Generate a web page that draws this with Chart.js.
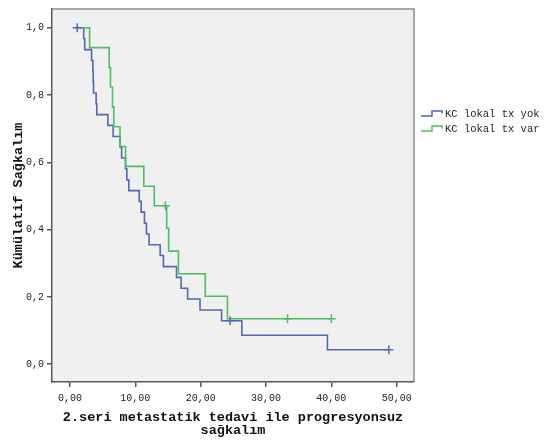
<!DOCTYPE html>
<html>
<head>
<meta charset="utf-8">
<script src="https://cdn.jsdelivr.net/npm/chart.js@4/dist/chart.umd.min.js"></script>
<style>
  html, body { margin: 0; padding: 0; background: #ffffff; }
  #wrap { width: 548px; height: 443px; }
</style>
</head>
<body>
<div id="wrap"><canvas id="c" width="548" height="443"></canvas></div>
<script>
// ---- data ----
const seriesNames = ['KC lokal tx yok', 'KC lokal tx var'];

const blueTimes = [1.1, 2.1, 2.25, 3.3, 3.5, 3.55, 3.6, 4.0, 4.1, 5.8, 6.6, 7.65, 7.9, 8.5, 8.7, 9.0,
                   10.6, 10.9, 11.4, 11.7, 12.1, 13.8, 14.3, 16.3, 17.0, 18.0, 19.9, 23.2, 26.3, 39.4, 48.8];
const blueSurv  = [1.0, .968, .935, .903, .871, .839, .806, .774, .742, .710, .677, .645, .613, .581, .548, .516,
                   .484, .452, .419, .387, .355, .323, .290, .258, .226, .194, .161, .129, .086, .043, .043];
const blueCensorTimes = [1.1, 24.5, 48.8];
const blueCensorSurv  = [1.0, .129, .043];

const greenTimes = [1.7, 3.0, 6.0, 6.2, 6.5, 6.7, 7.65, 8.5, 11.3, 12.9, 14.8, 15.1, 16.6, 20.7, 24.1, 40.0];
const greenSurv  = [1.0, .941, .882, .824, .765, .706, .647, .588, .529, .471, .404, .336, .269, .202, .135, .135];
const greenCensorTimes = [14.6, 33.3, 40.0];
const greenCensorSurv  = [.471, .135, .135];

const xTicks = [0, 10, 20, 30, 40, 50];
const yTicks = [0, 0.2, 0.4, 0.6, 0.8, 1.0];
const xTitle = ['2.seri metastatik tedavi ile progresyonsuz', 'sağkalım'];
const yTitle = 'Kümülatif Sağkalım';

// ---- styling ----
const BLUE = '#5566b6';
const GREEN = '#4cc05c';
const MONO = "'Liberation Mono', 'DejaVu Sans Mono', monospace";

const pts = (xs, ys) => xs.map((x, i) => ({ x: x, y: ys[i] }));

const plotBg = {
  id: 'plotBg',
  beforeDraw(chart) {
    const { ctx, chartArea: a } = chart;
    ctx.save();
    ctx.fillStyle = '#f0f0f0';
    ctx.fillRect(a.left, a.top, a.right - a.left, a.bottom - a.top);
    ctx.restore();
  },
  afterDraw(chart) {
    const { ctx, chartArea: a } = chart;
    ctx.save();
    ctx.strokeStyle = '#8c8c8c';
    ctx.lineWidth = 1.5;
    ctx.beginPath();
    ctx.moveTo(a.left, a.top);
    ctx.lineTo(a.right, a.top);
    ctx.lineTo(a.right, a.bottom);
    ctx.stroke();
    ctx.restore();
  }
};

const stepLegend = {
  id: 'stepLegend',
  afterDraw(chart) {
    const { ctx } = chart;
    const items = [
      { text: seriesNames[0], color: BLUE, y: 114.5 },
      { text: seriesNames[1], color: GREEN, y: 129.5 }
    ];
    ctx.save();
    items.forEach(it => {
      ctx.strokeStyle = it.color;
      ctx.lineWidth = 1.5;
      ctx.beginPath();
      ctx.moveTo(421, it.y + 1.5);
      ctx.lineTo(432, it.y + 1.5);
      ctx.lineTo(432, it.y - 3.5);
      ctx.lineTo(442, it.y - 3.5);
      ctx.lineTo(442, it.y - 1);
      ctx.stroke();
      ctx.fillStyle = '#222';
      ctx.font = '10.5px ' + MONO;
      ctx.textBaseline = 'middle';
      ctx.textAlign = 'left';
      ctx.fillText(it.text, 445, it.y);
    });
    ctx.restore();
  }
};

new Chart(document.getElementById('c'), {
  type: 'scatter',
  data: {
    datasets: [
      { label: seriesNames[0], data: pts(blueTimes, blueSurv), showLine: true, stepped: 'before',
        borderColor: BLUE, borderWidth: 1.6, pointRadius: 0, fill: false, order: 3 },
      { label: seriesNames[1], data: pts(greenTimes, greenSurv), showLine: true, stepped: 'before',
        borderColor: GREEN, borderWidth: 1.6, pointRadius: 0, fill: false, order: 2 },
      { label: 'cens1', data: pts(blueCensorTimes, blueCensorSurv), showLine: false,
        pointStyle: 'cross', pointRadius: 4.5, borderColor: BLUE, borderWidth: 1.5, order: 1 },
      { label: 'cens2', data: pts(greenCensorTimes, greenCensorSurv), showLine: false,
        pointStyle: 'cross', pointRadius: 4.5, borderColor: GREEN, borderWidth: 1.5, order: 0 }
    ]
  },
  options: {
    responsive: false,
    animation: false,
    layout: { padding: { top: 5, right: 134, left: 0, bottom: 0 } },
    plugins: { legend: { display: false }, tooltip: { enabled: false } },
    scales: {
      x: {
        type: 'linear',
        min: -2.755, max: 52.65,
        afterBuildTicks: s => { s.ticks = xTicks.map(v => ({ value: v })); },
        afterFit: s => { s.height = 61; },
        grid: { display: true, drawOnChartArea: false, drawTicks: true, tickLength: 5, tickColor: '#555', color: '#555', lineWidth: 1.5 },
        border: { display: true, color: '#5a5a5a', width: 1.5 },
        ticks: { font: { family: MONO, size: 10 }, color: '#222', padding: 5, maxRotation: 0,
                 callback: v => v.toFixed(2).replace('.', ',') },
        title: { display: true, text: xTitle, color: '#111',
                 font: { family: MONO, size: 13.5, weight: 'bold', lineHeight: '12.5px' },
                 padding: { top: 0, bottom: 6.5 } }
      },
      y: {
        type: 'linear',
        min: -0.0529, max: 1.0559,
        afterBuildTicks: s => { s.ticks = yTicks.map(v => ({ value: v })); },
        afterFit: s => { s.width = 52; },
        grid: { display: true, drawOnChartArea: false, drawTicks: true, tickLength: 5, tickColor: '#555', color: '#555', lineWidth: 1.5 },
        border: { display: true, color: '#5a5a5a', width: 1.5 },
        ticks: { font: { family: MONO, size: 10 }, color: '#222', padding: 3,
                 callback: v => v.toFixed(1).replace('.', ',') },
        title: { display: true, text: yTitle, color: '#111',
                 font: { family: MONO, size: 13.5, weight: 'bold', lineHeight: '16px' },
                 padding: { top: 10.3, bottom: 0 } }
      }
    }
  },
  plugins: [plotBg, stepLegend]
});
</script>
</body>
</html>
